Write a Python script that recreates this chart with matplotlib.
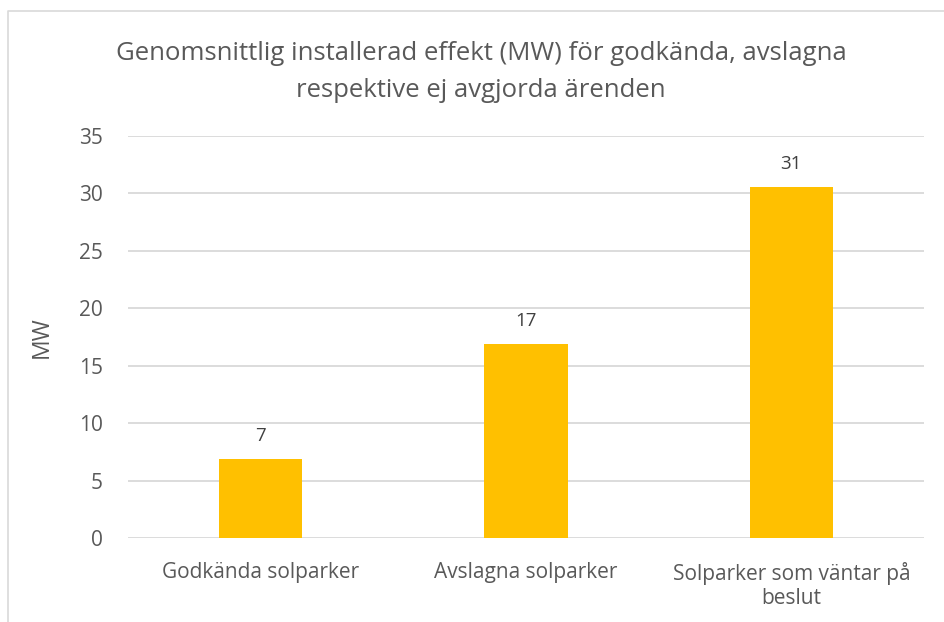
import matplotlib.pyplot as plt
from matplotlib.lines import Line2D

categories = ["Godkända solparker", "Avslagna solparker", "Solparker som väntar på\nbeslut"]
values = [6.85, 16.9, 30.55]
labels = ["7", "17", "31"]
yticks = [0, 5, 10, 15, 20, 25, 30, 35]

plt.rcParams['font.family'] = ['Open Sans', 'DejaVu Sans']
grey = "#595959"

W, H = 944, 622
fig = plt.figure(figsize=(W / 100, H / 100), dpi=100)
ax = fig.add_axes([128 / W, (H - 538) / H, (924 - 128) / W, (538 - 136) / H])

x = range(len(categories))
bars = ax.bar(x, values, width=0.313, color="#FFC000", zorder=3)
for b, lab in zip(bars, labels):
    ax.annotate(lab, (b.get_x() + b.get_width() / 2, b.get_height()),
                xytext=(0, 10), textcoords="offset points", ha="center", va="bottom",
                fontsize=13.5, color="#404040")

ax.set_xlim(-0.5, 2.5)
ax.set_ylim(0, 35)
ax.set_yticks(yticks)
ax.set_xticks(list(x))
ax.set_xticklabels(categories, fontsize=15, color=grey, linespacing=1.2)
ax.tick_params(axis="y", labelsize=15, labelcolor=grey, length=0, pad=18)
ax.tick_params(axis="x", length=0, pad=17)
ax.yaxis.grid(True, color="#D9D9D9", linewidth=1.3, zorder=0)
for s in ax.spines.values():
    s.set_visible(False)
ax.set_ylabel("MW", fontsize=16.5, color=grey, labelpad=18)

fig.text(481 / W, 1 - 72 / H, "Genomsnittlig installerad effekt (MW) för godkända, avslagna\nrespektive ej avgjorda ärenden",
         ha="center", va="center", fontsize=18.5, color=grey, linespacing=1.6)

# chart border (left and top)
fig.add_artist(Line2D([8 / W, 8 / W, 1], [0, 1 - 11 / H, 1 - 11 / H], transform=fig.transFigure,
                      color="#D9D9D9", linewidth=1.2))

fig.savefig("out.png", dpi=100)
